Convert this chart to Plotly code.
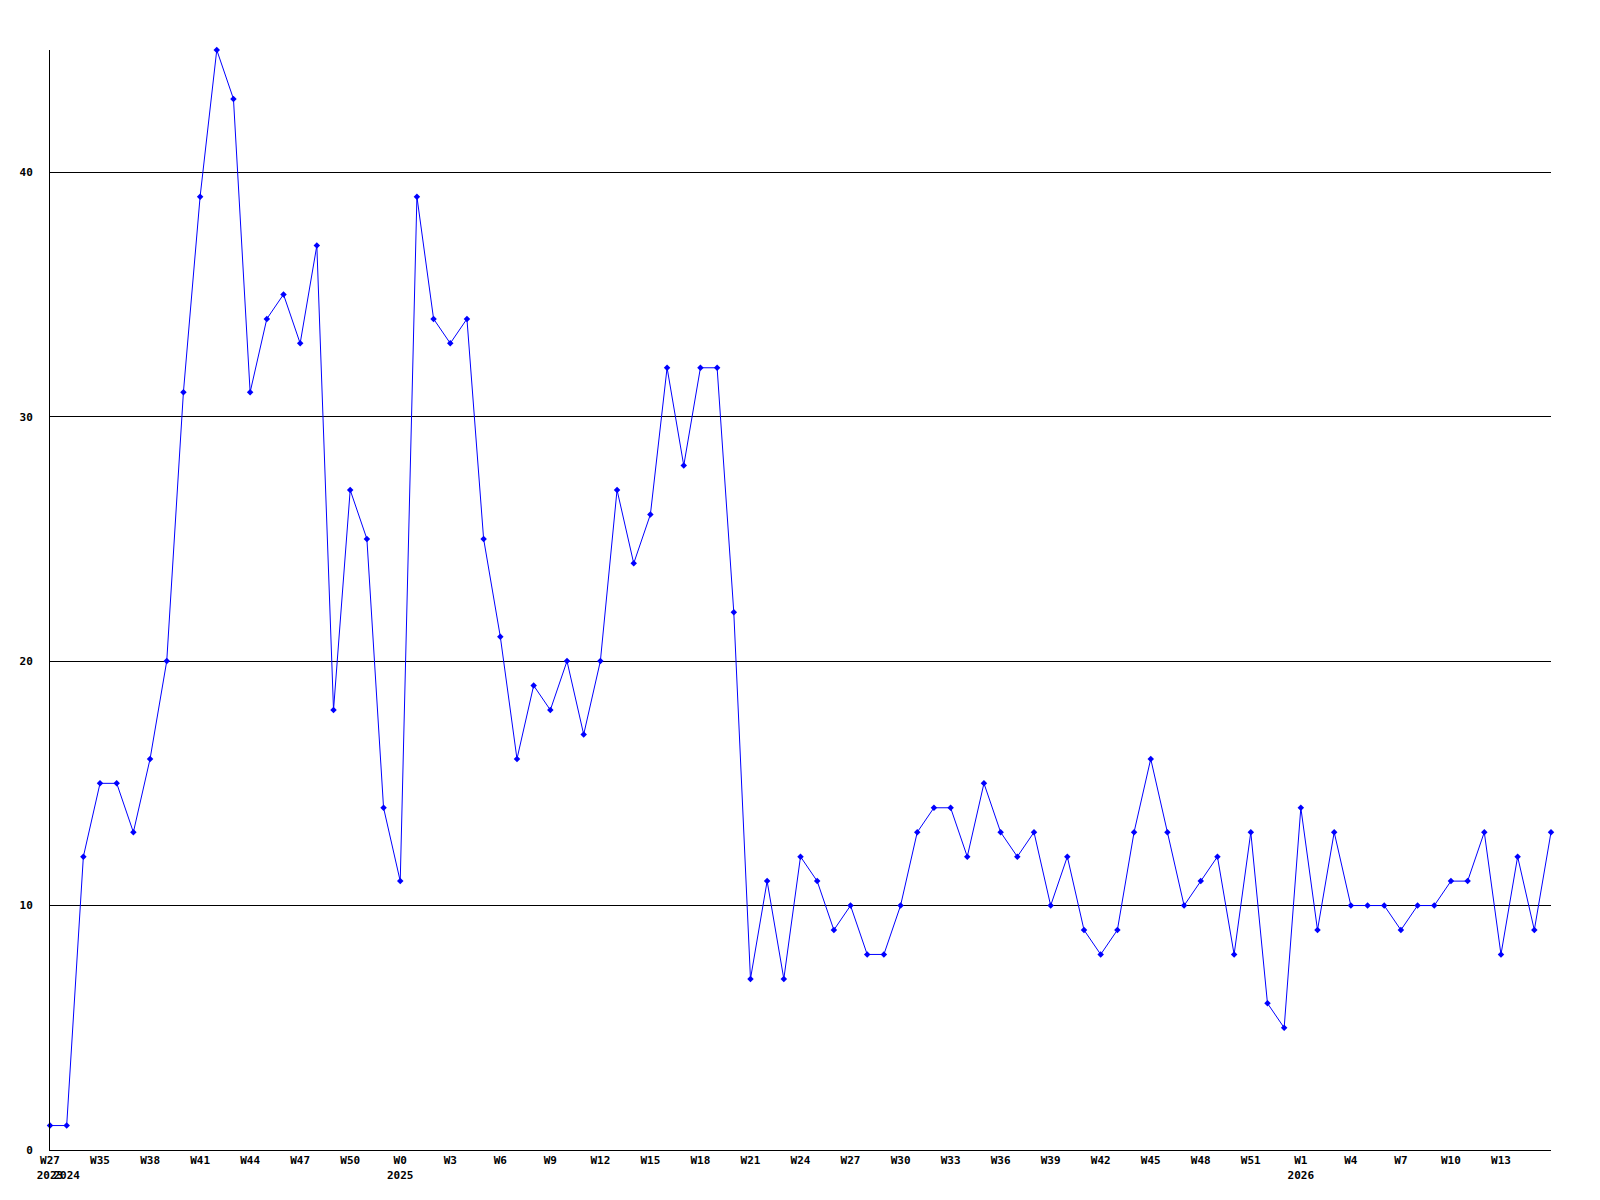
import plotly.graph_objects as go

# Weekly counts, one per point (W27 2023, then W33 2024 ... W16 2026)
values = [1, 1, 12, 15, 15, 13, 16, 20, 31, 39,
          45, 43, 31, 34, 35, 33, 37, 18, 27, 25,
          14, 11, 39, 34, 33, 34, 25, 21, 16, 19,
          18, 20, 17, 20, 27, 24, 26, 32, 28, 32,
          32, 22, 7, 11, 7, 12, 11, 9, 10, 8,
          8, 10, 13, 14, 14, 12, 15, 13, 12, 13,
          10, 12, 9, 8, 9, 13, 16, 13, 10, 11,
          12, 8, 13, 6, 5, 14, 9, 13, 10, 10,
          10, 9, 10, 10, 11, 11, 13, 8, 12, 9,
          13]

# Tick positions (point index) and their labels
tick_positions = [0, 1, 3, 6, 9, 12, 15, 18, 21, 24, 27, 30, 33, 36, 39, 42, 45,
                  48, 51, 54, 57, 60, 63, 66, 69, 72, 75, 78, 81, 84, 87]
tick_labels = ["W27<br>2023", " <br>2024", "W35", "W38", "W41", "W44", "W47", "W50",
               "W0<br>2025", "W3", "W6", "W9", "W12", "W15", "W18", "W21", "W24",
               "W27", "W30", "W33", "W36", "W39", "W42", "W45", "W48", "W51",
               "W1<br>2026", "W4", "W7", "W10", "W13"]

y_ticks = [0, 10, 20, 30, 40]

x = list(range(len(values)))

font = dict(family="DejaVu Sans Mono", size=11, color="black", weight="bold")

fig = go.Figure()
fig.add_trace(go.Scatter(
    x=x, y=values, mode="lines+markers",
    line=dict(color="#0000FF", width=1),
    marker=dict(symbol="diamond", size=5, color="#0000FF"),
    cliponaxis=False,
    showlegend=False,
))

fig.update_layout(
    width=1600, height=1200,
    margin=dict(l=42, r=57, t=42, b=58),
    paper_bgcolor="white", plot_bgcolor="white",
    font=font,
    xaxis=dict(
        range=[0, len(values) - 1],
        tickmode="array", tickvals=tick_positions, ticktext=tick_labels,
        tickangle=0, showgrid=False, zeroline=False,
        showline=True, linecolor="black", linewidth=1,
        ticks="", tickfont=font,
    ),
    yaxis=dict(
        range=[0, 45],
        tickmode="array", tickvals=y_ticks,
        showgrid=True, gridcolor="black", gridwidth=1,
        zeroline=False,
        showline=True, linecolor="black", linewidth=1,
        ticks="", ticklabelstandoff=14, tickfont=font,
    ),
)

fig.write_html("out.html")
